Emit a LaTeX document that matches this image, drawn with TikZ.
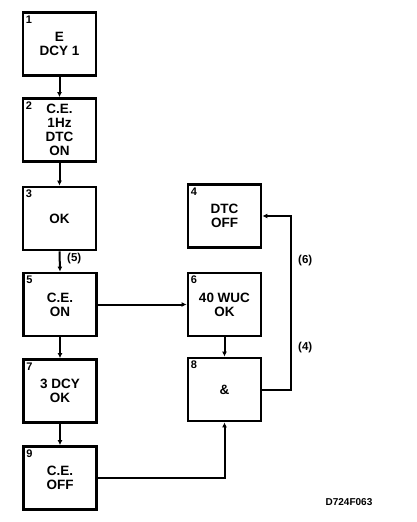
\documentclass[tikz,border=0pt]{standalone}
\usepackage{fontspec}
\setmainfont{Liberation Sans}
\usetikzlibrary{arrows.meta}
\begin{document}
\begin{tikzpicture}[x=1pt,y=-1pt,
  blk/.style={draw, line width=2.8pt, minimum width=73pt, minimum height=63pt,
    align=center, inner sep=0pt, font=\fontsize{13.5}{13.8}\selectfont\bfseries},
  num/.style={anchor=north west, inner sep=0pt, font=\fontsize{11}{11}\selectfont\bfseries},
  conn/.style={line width=2pt, -{Latex[length=5pt,width=5pt]}},
  lbl/.style={inner sep=0pt, font=\fontsize{11.5}{12}\selectfont\bfseries}]
\useasboundingbox (0,0) rectangle (416,522);
\node[blk] (b1) at (59.5,44) {E\\DCY 1};
\node[blk] (b2) at (59.5,130) {C.E.\\1Hz\\DTC\\ON};
\node[blk] (b3) at (59.5,218.5) {OK};
\node[blk] (b5) at (60,304.5) {C.E.\\ON};
\node[blk] (b7) at (60,391) {3 DCY\\OK};
\node[blk] (b9) at (60,478) {C.E.\\OFF};
\node[blk] (b4) at (224.5,216) {DTC\\OFF};
\node[blk] (b6) at (224.5,304.5) {40 WUC\\OK};
\node[blk] (b8) at (224.5,389.5) {\&};
\foreach \b/\n in {b1/1,b2/2,b3/3,b5/5,b7/7,b9/9,b4/4,b6/6,b8/8}
  \node[num] (n\n) at ([xshift=4pt,yshift=-4.5pt]\b.north west) {\n};
\coordinate (cor) at (291,300);
\draw[conn] (b1.south) -- (b2.north);
\draw[conn] (b2.south) -- (b3.north);
\draw[conn] (b3.south) -- (b5.north);
\draw[conn] (b5.south) -- (b7.north);
\draw[conn] (b7.south) -- (b9.north);
\draw[conn] (b5.east) -- (b6.west);
\draw[conn] (b6.south) -- (b8.north);
\draw[conn] (b9.east) -| (b8.south);
\draw[conn] (b8.east) -- (b8.east -| cor) |- (b4.east);
\node[lbl, anchor=west] (l5) at (67,259) {(5)};
\node[lbl, anchor=west] (l6) at (298,261) {(6)};
\node[lbl, anchor=west] (l4) at (298,348) {(4)};
\node[inner sep=0pt, font=\fontsize{10}{10}\selectfont\bfseries] (fig) at (349,502) {D724F063};
\end{tikzpicture}
\end{document}
